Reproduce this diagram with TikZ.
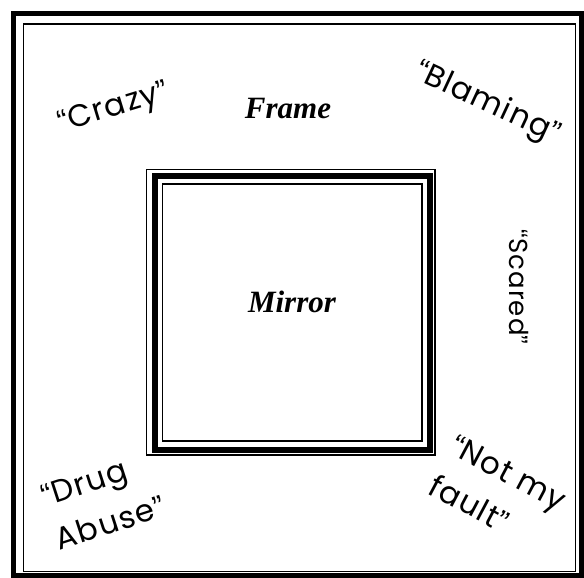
\documentclass[tikz,border=0pt]{standalone}
\usepackage{fontspec}
\setmainfont{Liberation Serif}
\newfontfamily\hand[LetterSpace=4]{Poppins}
\newfontfamily\qfont{Liberation Sans}
\newcommand\oq{{\qfont “}}
\newcommand\cq{{\qfont ”}}
\begin{document}
\begin{tikzpicture}[x=1pt,y=-1pt,
  hw/.style={font=\hand\fontsize{31}{46}\selectfont, inner sep=0pt, align=left},
  bi/.style={font=\fontsize{31}{36}\selectfont\bfseries\itshape, inner sep=0pt},
  heavyline/.style={line width=5.5pt},
  lightline/.style={line width=1.6pt}]
\useasboundingbox (0,0) rectangle (584,578);
\fill[white] (0,0) rectangle (584,578);
% outer frame
\draw[heavyline] (13.5,13.5) rectangle (582,575.5);
\draw[lightline] (23.5,24) rectangle (575.5,571.5);
% mirror frame
\draw[line width=1.3pt] (146.5,169.5) rectangle (435,455);
\draw[line width=6pt] (154.5,176) rectangle (430,449.5);
\draw[line width=1.3pt] (162.5,184) rectangle (422,441);
% labels
\node[bi, anchor=base] (frame) at (288,118) {Frame};
\node[bi, anchor=base] (mirror) at (292,312) {Mirror};
\node[hw, rotate=17] (crazy) at (114,109) {\oq Crazy\cq};
\node[hw, rotate=-25] (blaming) at (487,104) {\oq Blaming\cq};
\node[hw, rotate=-90, font=\hand\fontsize{26}{36}\selectfont] (scared) at (519,287) {\oq Scared\cq};
\node[hw, rotate=-28] (fault) at (498,493) {\oq Not my\\ fault\cq};
\node[hw, rotate=18] (drug) at (103,501) {\oq Drug\\ Abuse\cq};
\end{tikzpicture}
\end{document}
